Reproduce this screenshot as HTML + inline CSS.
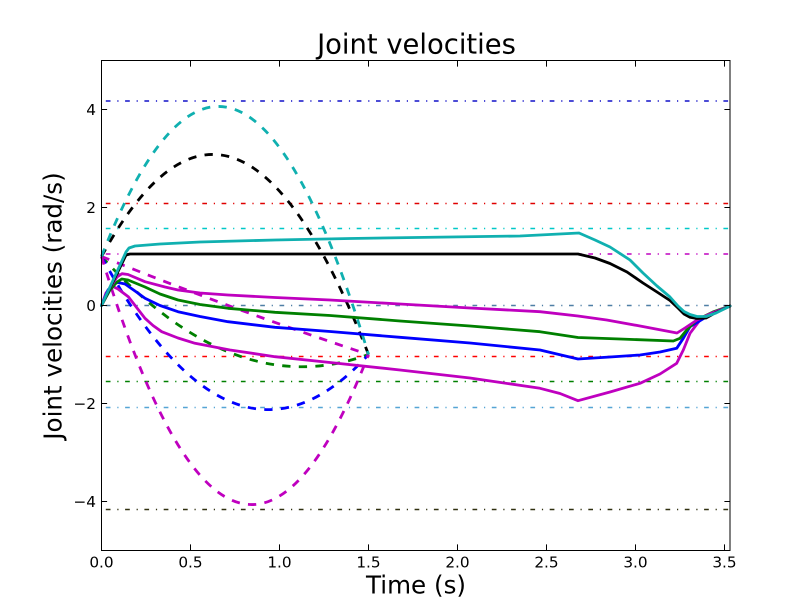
<!DOCTYPE html>
<html>
<head>
<meta charset="utf-8">
<style>
html,body{margin:0;padding:0;background:#fff;}
svg{display:block;}
text{font-family:"DejaVu Sans","Liberation Sans",sans-serif;fill:#000;}
</style>
</head>
<body>
<svg width="812" height="612" viewBox="0 0 812 612" xmlns="http://www.w3.org/2000/svg">
<rect x="0" y="0" width="812" height="612" fill="#fff"/>

<!-- limit lines (dash-dot) -->
<g fill="none" stroke-width="1.5" stroke-dasharray="4.7,6.8,1.2,6.6" stroke-dashoffset="15">
  <line x1="101.5" y1="101" x2="730" y2="101" stroke="#1010c8"/>
  <line x1="101.5" y1="203.5" x2="730" y2="203.5" stroke="#e00000"/>
  <line x1="101.5" y1="228.5" x2="730" y2="228.5" stroke="#00c8c8"/>
  <line x1="101.5" y1="254" x2="730" y2="254" stroke="#bf00bf"/>
  <line x1="101.5" y1="305.5" x2="730" y2="305.5" stroke="#4f7fa5"/>
  <line x1="101.5" y1="356.5" x2="730" y2="356.5" stroke="#ff0000"/>
  <line x1="101.5" y1="381.5" x2="730" y2="381.5" stroke="#008000"/>
  <line x1="101.5" y1="407.5" x2="730" y2="407.5" stroke="#55a5d5"/>
  <line x1="101.5" y1="509.5" x2="730" y2="509.5" stroke="#303010"/>
</g>

<!-- dashed curves -->
<g fill="none" stroke-width="2.8" stroke-dasharray="8.3,8.3">
  <path d="M101.5,256.5 Q235,403.5 368.5,354.5" stroke="#008000"/>
  <path d="M101.5,256.5 Q235,501.5 368.5,354.5" stroke="#0000ff"/>
  <path d="M101.5,256.5 Q235,697.5 368.5,354.5" stroke="#bf00bf"/>
  <path d="M101.5,256.5 Q235,310.4 368.5,354.5" stroke="#bf00bf"/>
  <path d="M101.5,256.5 Q235,11.5 368.5,354.5" stroke="#000000"/>
  <path d="M101.5,256.5 Q235,-86.5 368.5,354.5" stroke="#10b0b0"/>
</g>

<!-- solid curves -->
<g fill="none" stroke-width="2.8" stroke-linejoin="round" stroke-linecap="round">
  <polyline stroke="#bf00bf" points="101.5,305.5 106,293 110,288 113,286.5 118,289 128.3,296.7 137,308 145,318.3 153,325.5 161.7,331.7 178,338 195,343.3 230,350 275,356.7 330,362.5 400,370 470,378 540,388.3 560,393.5 578,400.7 610,392 640,383.3 660,374 676.7,363.3 683.3,350 690,333.3 700,320 713.3,313.3 730,306"/>
  <polyline stroke="#0000ff" points="101.5,305.5 108,290 114,283.5 118,282.5 125,284 135,291 145,298.3 160,305.5 178,311.7 200,316.5 228,321.7 275,327.3 330,331.5 400,337.3 470,343 540,350 578,359 610,357 640,355 660,352 676.7,348.3 683.3,338.3 690,326.7 706.7,316.7 730,306"/>
  <polyline stroke="#008000" points="101.5,305.5 110,290 117,282 121.7,279 128,280 145,287 160,294 178,300 200,304.5 228,308.3 275,312.3 330,315.5 400,321 470,326 540,331.7 578,337.5 620,339 673.3,341 680,338.3 686.7,330 696.7,320 713,312 730,306"/>
  <polyline stroke="#bf00bf" points="101.5,305.5 110,288 117,277 122,273.7 128,274.5 145,281.7 165,287 178,290 200,293 228,295 275,297.5 330,300 400,304 470,308 540,311.7 578,316 606.7,320 640,326 677,333 685,328 697,320 712,313 730,306"/>
  <polyline stroke="#000000" points="101.5,305.5 126,255 130,254 578,254 595,258 610,263.5 627,272 643,283 657,292 670,300.5 678,308 684,314 690,317.3 697,318.5 706,318 714,313.5 730,306"/>
  <polyline stroke="#10b0b0" points="101.5,305.5 126,252 129,248 135,246 160,244 200,242 275,240 350,238.5 450,237 520,236 579,233 595,240 610,247 630,260 643,273 657,286 670,297 678,306 684,311.5 690,314.5 697,316.5 706,316.5 716,313 730,306"/>
</g>

<!-- axes frame -->
<rect x="101.5" y="60.5" width="628.5" height="490" fill="none" stroke="#000" stroke-width="1"/>

<!-- ticks -->
<g stroke="#000" stroke-width="1">
  <path d="M101.5,550 V544.4 M190.5,550 V544.4 M279.5,550 V544.4 M368.5,550 V544.4 M457.5,550 V544.4 M546.5,550 V544.4 M635.5,550 V544.4 M724.5,550 V544.4"/>
  <path d="M101.5,61 V66.6 M190.5,61 V66.6 M279.5,61 V66.6 M368.5,61 V66.6 M457.5,61 V66.6 M546.5,61 V66.6 M635.5,61 V66.6 M724.5,61 V66.6"/>
  <path d="M101.5,109.5 H107.1 M101.5,207.5 H107.1 M101.5,305.5 H107.1 M101.5,403.5 H107.1 M101.5,501.5 H107.1"/>
  <path d="M730,109.5 H724.4 M730,207.5 H724.4 M730,305.5 H724.4 M730,403.5 H724.4 M730,501.5 H724.4"/>
</g>

<!-- x tick labels -->
<g font-size="15.3" text-anchor="middle">
  <text x="101.5" y="567.5">0.0</text>
  <text x="190.5" y="567.5">0.5</text>
  <text x="279.5" y="567.5">1.0</text>
  <text x="368.5" y="567.5">1.5</text>
  <text x="457.5" y="567.5">2.0</text>
  <text x="546.5" y="567.5">2.5</text>
  <text x="635.5" y="567.5">3.0</text>
  <text x="724.5" y="567.5">3.5</text>
</g>

<!-- y tick labels -->
<g font-size="15.3" text-anchor="end">
  <text x="96" y="115.1">4</text>
  <text x="96" y="213.1">2</text>
  <text x="96" y="311.1">0</text>
  <text x="96" y="409.1">−2</text>
  <text x="96" y="507.1">−4</text>
</g>

<!-- title and labels -->
<text x="416.5" y="53.5" font-size="27.4" text-anchor="middle">Joint velocities</text>
<text x="416" y="593.5" font-size="24.6" text-anchor="middle">Time (s)</text>
<text transform="translate(61.5,306) rotate(-90)" font-size="24.6" text-anchor="middle">Joint velocities (rad/s)</text>
</svg>
</body>
</html>
